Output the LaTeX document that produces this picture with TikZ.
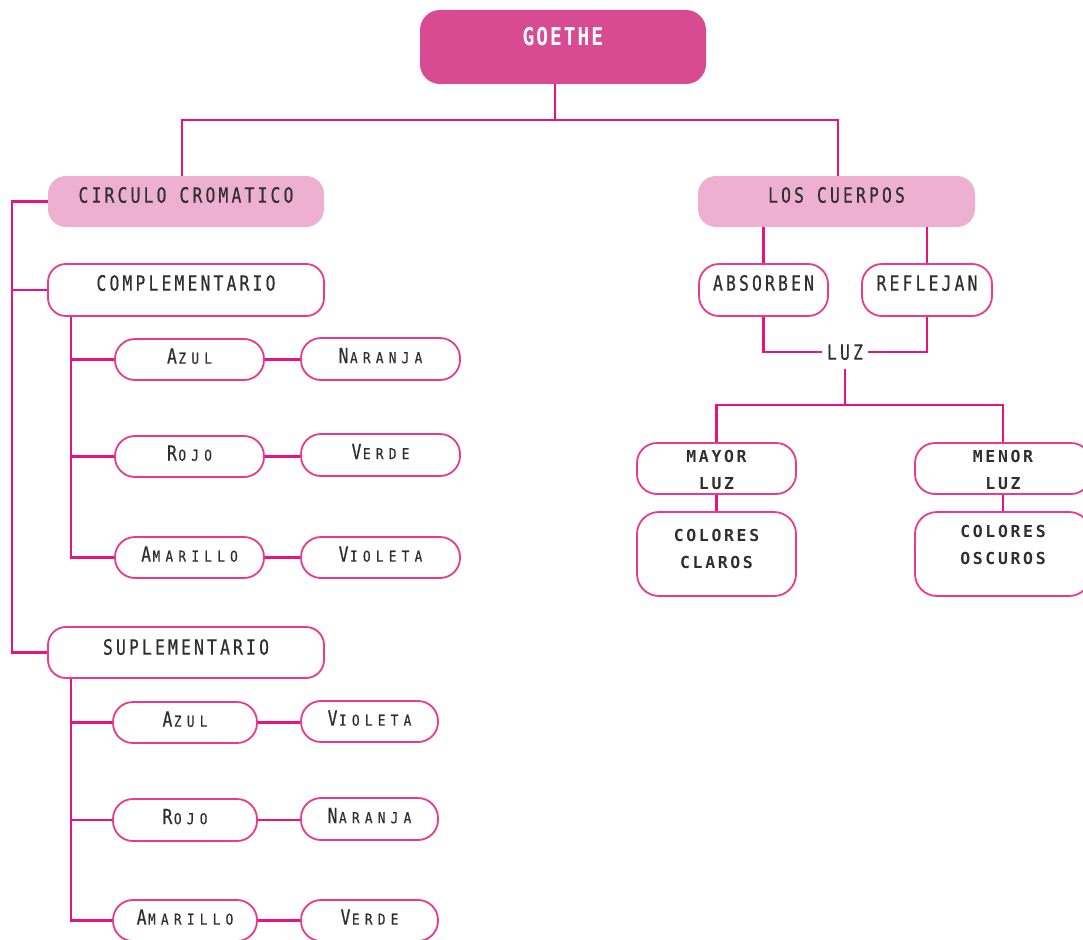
\documentclass[tikz,border=0pt]{standalone}
\usepackage{fontspec}
\newfontfamily\condfont[FakeStretch=0.78,LetterSpace=15,FakeBold=0.5]{DejaVu Sans Mono}
\newfontfamily\smallcapfont[FakeStretch=0.85,LetterSpace=35,FakeBold=0.5]{DejaVu Sans Mono}
\newfontfamily\titlefont[FakeStretch=0.8,LetterSpace=8]{DejaVu Sans Mono}
\newfontfamily\boxfont[LetterSpace=16]{DejaVu Sans Mono}
\definecolor{linkpink}{HTML}{E8137E}
\definecolor{edgepink}{HTML}{EA3A8E}
\definecolor{goethepink}{HTML}{D84B93}
\definecolor{softpink}{HTML}{EEB0D1}
\definecolor{ink}{HTML}{2F2F2F}
% small-caps style label: large initial, smaller rest
\newcommand\capsm[2]{#1\hspace{1.5pt}{\smallcapfont\fontsize{15}{15}\selectfont#2}}
\tikzset{
  link/.style={draw=linkpink, line width=2.6pt},
  box/.style={draw=edgepink, line width=1.8pt, fill=white, text=ink, inner sep=0pt, rounded corners=18pt},
  soft/.style={fill=softpink, draw=none, text=ink, inner sep=0pt, rounded corners=18pt},
  headtext/.style={font=\condfont\fontsize{21}{21}\selectfont, text height=15.3pt},
  pill/.style={box, rounded corners=20pt, headtext, text depth=7pt},
  twoline/.style={box, rounded corners=20pt, align=center, font=\boxfont\bfseries\fontsize{16.5}{27}\selectfont}
}
\begin{document}
\begin{tikzpicture}[x=1pt, y=-1pt]
\useasboundingbox (0,0) rectangle (1083,939);

% top node
\node[fill=goethepink, draw=none, rounded corners=20pt, inner sep=0pt, minimum width=286pt, minimum height=74pt,
      text=white, font=\titlefont\bfseries\fontsize{24.5}{24.5}\selectfont, text height=18pt, text depth=20pt]
  (goethe) at (563,47) {GOETHE};

% left branch
\node[soft, headtext, minimum width=276pt, minimum height=51pt, text depth=13pt] (circulo) at (186,201.5) {CIRCULO CROMATICO};
\node[box, headtext, minimum width=276pt, minimum height=52pt, text depth=14pt] (complementario) at (186,290) {COMPLEMENTARIO};
\node[box, headtext, minimum width=276pt, minimum height=51pt, text depth=11pt] (suplementario) at (186,652.5) {SUPLEMENTARIO};

\node[pill, minimum width=149pt, minimum height=41pt] (azulA) at (189.5,359.5) {\capsm{A}{ZUL}};
\node[pill, minimum width=159pt, minimum height=42pt] (naranjaA) at (380.5,359) {\capsm{N}{ARANJA}};
\node[pill, minimum width=149pt, minimum height=41pt] (rojoA) at (189.5,456.5) {\capsm{R}{OJO}};
\node[pill, minimum width=159pt, minimum height=42pt] (verdeA) at (380.5,455) {\capsm{V}{ERDE}};
\node[pill, minimum width=149pt, minimum height=41pt] (amarilloA) at (189.5,557.5) {\capsm{A}{MARILLO}};
\node[pill, minimum width=159pt, minimum height=41pt] (violetaA) at (380.5,557.5) {\capsm{V}{IOLETA}};

\node[pill, minimum width=144pt, minimum height=41pt] (azulB) at (185,722.5) {\capsm{A}{ZUL}};
\node[pill, minimum width=137pt, minimum height=41pt] (violetaB) at (369.5,721.5) {\capsm{V}{IOLETA}};
\node[pill, minimum width=144pt, minimum height=42pt] (rojoB) at (185,820) {\capsm{R}{OJO}};
\node[pill, minimum width=137pt, minimum height=42pt] (naranjaB) at (369.5,819) {\capsm{N}{ARANJA}};
\node[pill, minimum width=144pt, minimum height=41pt] (amarilloB) at (185,920.5) {\capsm{A}{MARILLO}};
\node[pill, minimum width=137pt, minimum height=41pt] (verdeB) at (369.5,920.5) {\capsm{V}{ERDE}};

% right branch
\node[soft, headtext, minimum width=277pt, minimum height=51pt, text depth=13pt] (cuerpos) at (836.5,201.5) {LOS CUERPOS};
\node[box, headtext, minimum width=129pt, minimum height=52pt, text depth=14pt, rounded corners=20pt] (absorben) at (763.5,290) {ABSORBEN};
\node[box, headtext, minimum width=130pt, minimum height=52pt, text depth=14pt, rounded corners=20pt] (reflejan) at (927,290) {REFLEJAN};
\node[headtext, text=ink, text depth=0pt, inner xsep=5pt, inner ysep=9.3pt] (luz) at (845,352) {LUZ};

\node[twoline, minimum width=159pt, minimum height=51pt, text height=41pt, text depth=0pt] (mayor) at (716.5,468.5) {MAYOR\\LUZ};
\node[twoline, minimum width=159pt, minimum height=84pt, text height=39pt, text depth=11pt, rounded corners=22pt] (claros) at (716.5,554) {COLORES\\CLAROS};
\node[twoline, minimum width=176pt, minimum height=51pt, text height=41pt, text depth=0pt] (menor) at (1003,468.5) {MENOR\\LUZ};
\node[twoline, minimum width=176pt, minimum height=84pt, text height=39pt, text depth=18pt, rounded corners=22pt] (oscuros) at (1003,554) {COLORES\\OSCUROS};

% connectors
\coordinate (top) at (555,120);
\coordinate (topL) at (182,120);
\coordinate (topR) at (838,120);
\draw[link] (goethe.south -| top) -- (top);
\draw[link] (topL |- circulo.north) -- (topL) -- (topR) -- (topR |- cuerpos.north);

\coordinate (spine) at (12,400);
\draw[link] (circulo.west) -| (spine) |- (suplementario.west);
\draw[link] (complementario.west) -- (complementario.west -| spine);

\coordinate (sub) at (71,0);
\draw[link] (complementario.south -| sub) |- (amarilloA.west);
\draw[link] (azulA.west) -- (azulA.west -| sub);
\draw[link] (rojoA.west) -- (rojoA.west -| sub);
\draw[link] (azulA.east) -- (azulA.east -| naranjaA.west);
\draw[link] (rojoA.east) -- (rojoA.east -| verdeA.west);
\draw[link] (amarilloA.east) -- (amarilloA.east -| violetaA.west);

\draw[link] (suplementario.south -| sub) |- (amarilloB.west);
\draw[link] (azulB.west) -- (azulB.west -| sub);
\draw[link] (rojoB.west) -- (rojoB.west -| sub);
\draw[link] (azulB.east) -- (azulB.east -| violetaB.west);
\draw[link] (rojoB.east) -- (rojoB.east -| naranjaB.west);
\draw[link] (amarilloB.east) -- (amarilloB.east -| verdeB.west);

\draw[link] (absorben.north |- cuerpos.south) -- (absorben.north);
\draw[link] (reflejan.north |- cuerpos.south) -- (reflejan.north);
\draw[link] (absorben.south) |- (luz.west);
\draw[link] (reflejan.south) |- (luz.east);

\coordinate (split) at (844,405);
\draw[link] (luz.south) -- (luz.south |- split);
\draw[link] (mayor.north) |- (split) -| (menor.north);
\draw[link] (mayor.south) -- (claros.north);
\draw[link] (menor.south) -- (oscuros.north);
\end{tikzpicture}
\end{document}
